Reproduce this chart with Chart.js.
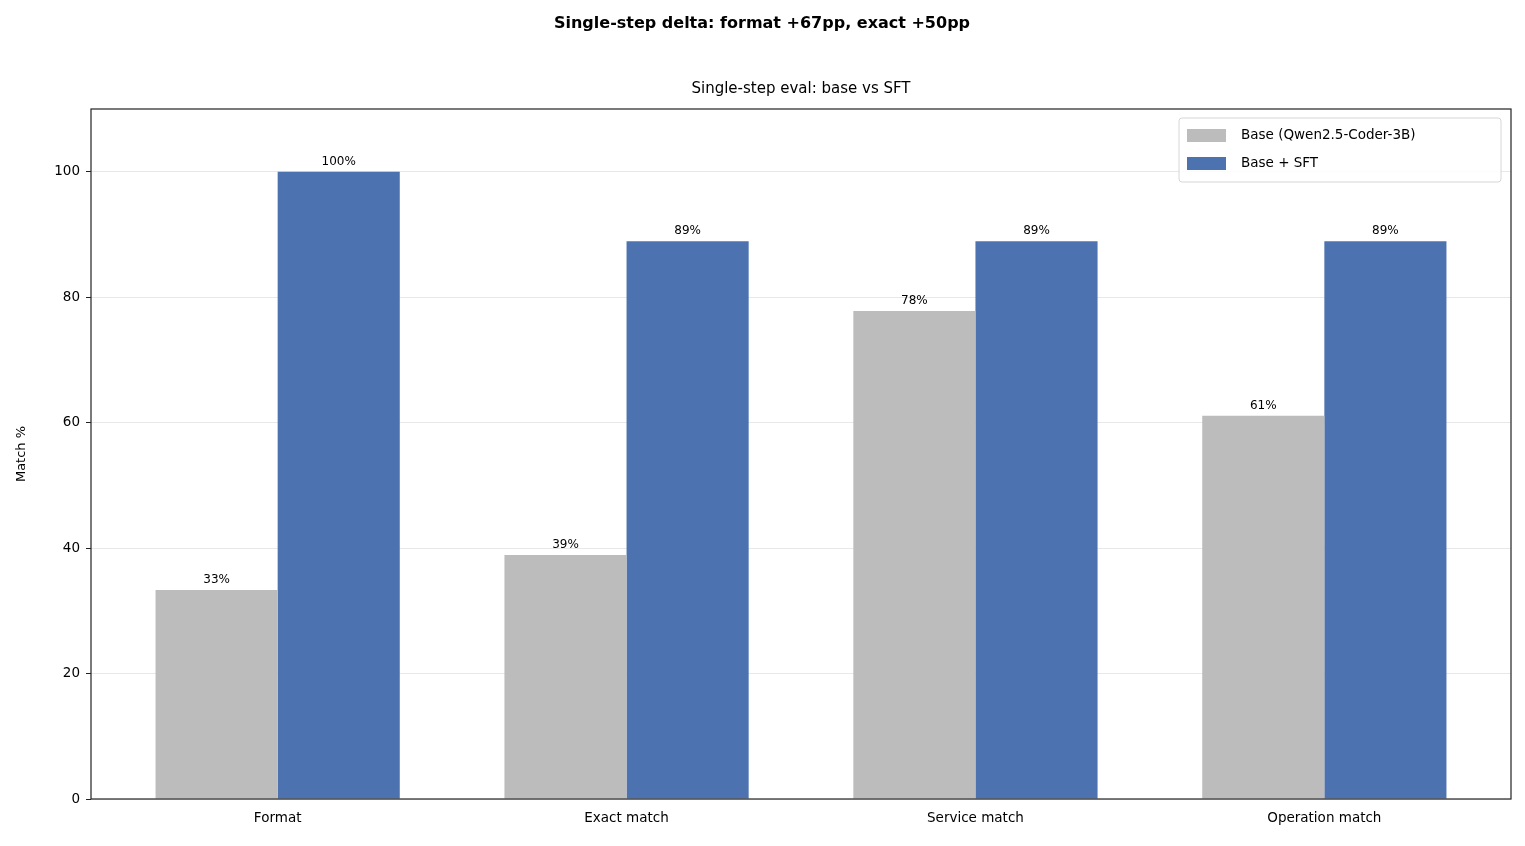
<!DOCTYPE html>
<html>
<head>
<meta charset="utf-8">
<script src="https://cdn.jsdelivr.net/npm/chart.js@4"></script>
<style>
  body { margin: 0; background: #fff; }
  #wrap { width: 1525px; height: 846px; }
</style>
</head>
<body>
<div id="wrap"><canvas id="chart"></canvas></div>
<script>
const categories = ['Format', 'Exact match', 'Service match', 'Operation match'];
const baseValues = [33.3, 38.9, 77.8, 61.1];
const sftValues = [100, 88.9, 88.9, 88.9];
const seriesNames = ['Base (Qwen2.5-Coder-3B)', 'Base + SFT'];
const seriesColors = ['#bcbcbc', '#4c72b0'];
const yTicks = [0, 20, 40, 60, 80, 100];

const FONT = 'DejaVu Sans';

// titles, frame, legend and value labels drawn on top
const decorations = {
  id: 'decorations',
  afterDraw(chart) {
    const { ctx, chartArea: a } = chart;
    ctx.save();
    ctx.fillStyle = '#000';
    ctx.textAlign = 'center';
    ctx.textBaseline = 'middle';
    ctx.font = `bold 16px "${FONT}"`;
    ctx.fillText('Single-step delta: format +67pp, exact +50pp', 762, 24);
    ctx.font = `15px "${FONT}"`;
    ctx.fillText('Single-step eval: base vs SFT', (a.left + a.right) / 2, 89);

    ctx.save();
    ctx.translate(22, (a.top + a.bottom) / 2);
    ctx.rotate(-Math.PI / 2);
    ctx.font = `13px "${FONT}"`;
    ctx.fillText('Match %', 0, 0);
    ctx.restore();

    // value labels
    ctx.font = `12px "${FONT}"`;
    ctx.textBaseline = 'bottom';
    chart.data.datasets.forEach((ds, i) => {
      chart.getDatasetMeta(i).data.forEach((bar, j) => {
        ctx.fillText(Math.round(ds.data[j].y) + '%', bar.x, bar.y - 4);
      });
    });

    // frame
    ctx.strokeStyle = '#222';
    ctx.lineWidth = 1.2;
    ctx.strokeRect(a.left, a.top, a.right - a.left, a.bottom - a.top);

    // legend
    const lx = 1179, ly = 118, lw = 322, lh = 64;
    ctx.fillStyle = 'rgba(255,255,255,0.85)';
    ctx.strokeStyle = '#d6d6d6';
    ctx.lineWidth = 1;
    ctx.beginPath();
    ctx.roundRect(lx, ly, lw, lh, 3);
    ctx.fill();
    ctx.stroke();
    ctx.textAlign = 'left';
    ctx.textBaseline = 'middle';
    ctx.font = `13.5px "${FONT}"`;
    seriesNames.forEach((name, i) => {
      const y = ly + 17 + i * 28;
      ctx.fillStyle = seriesColors[i];
      ctx.fillRect(lx + 8, y - 6, 39, 13);
      ctx.fillStyle = '#000';
      ctx.fillText(name, lx + 62, y);
    });
    ctx.restore();
  }
};

new Chart(document.getElementById('chart'), {
  type: 'bar',
  data: {
    datasets: [
      { label: seriesNames[0], data: baseValues.map((v, i) => ({ x: i, y: v })), backgroundColor: seriesColors[0] },
      { label: seriesNames[1], data: sftValues.map((v, i) => ({ x: i, y: v })), backgroundColor: seriesColors[1] }
    ]
  },
  options: {
    responsive: true,
    maintainAspectRatio: false,
    animation: false,
    categoryPercentage: 0.7,
    barPercentage: 1,
    layout: { padding: { left: 0, top: 109, right: 14, bottom: 0 } },
    plugins: { legend: { display: false }, tooltip: { enabled: false } },
    scales: {
      x: {
        type: 'linear',
        offset: false,
        min: -0.535,
        max: 3.535,
        afterBuildTicks: s => { s.ticks = categories.map((_, i) => ({ value: i })); },
        afterFit: s => { s.height = 47; },
        grid: { display: false, drawTicks: true, tickLength: 5, tickColor: '#222' },
        border: { display: false },
        ticks: {
          color: '#000',
          font: { family: FONT, size: 13.5 },
          padding: 6,
          maxRotation: 0,
          callback: v => categories[v] ?? ''
        }
      },
      y: {
        min: 0,
        max: 110,
        afterBuildTicks: s => { s.ticks = yTicks.map(v => ({ value: v })); },
        afterFit: s => { s.width = 91; },
        grid: { color: '#e8e8e8', lineWidth: 1, tickLength: 5, tickColor: '#222' },
        border: { display: false },
        ticks: { color: '#000', font: { family: FONT, size: 13.5 }, padding: 6 }
      }
    }
  },
  plugins: [decorations]
});
</script>
</body>
</html>
